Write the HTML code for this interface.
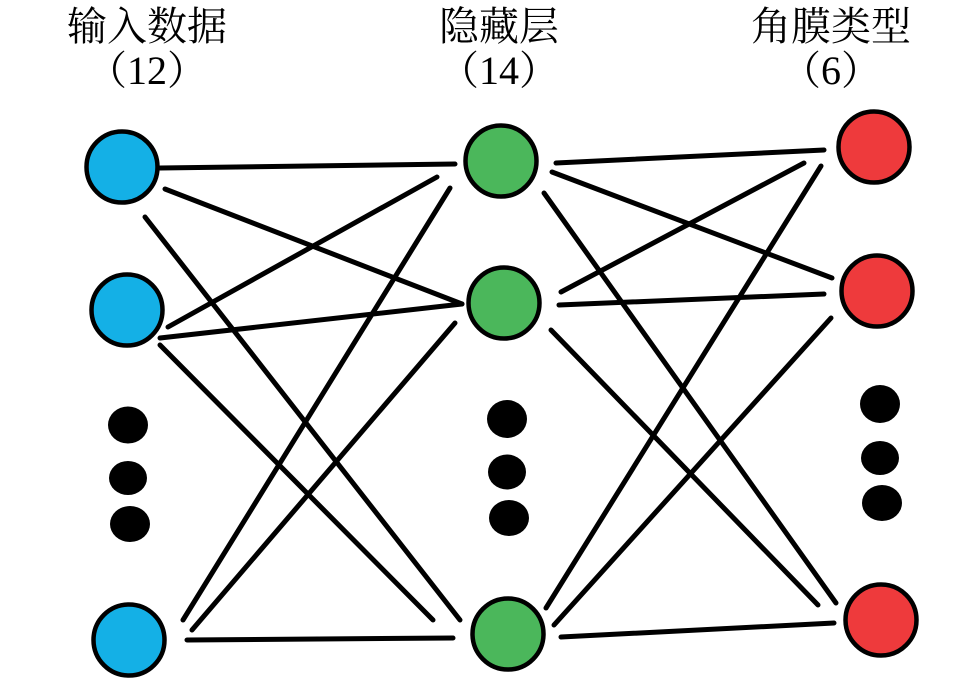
<!DOCTYPE html>
<html>
<head>
<meta charset="utf-8">
<style>
html,body{margin:0;padding:0;background:#fff;}
svg{display:block;}
</style>
</head>
<body>
<svg width="978" height="690" viewBox="0 0 978 690" xmlns="http://www.w3.org/2000/svg">
<rect width="978" height="690" fill="#fff"/>
<g font-family="'Liberation Serif','Noto Serif CJK SC',serif" font-size="40" fill="#000" text-anchor="middle">
<text x="147" y="40">输入数据</text>
<text x="147" y="84">（12）</text>
<text x="499" y="40">隐藏层</text>
<text x="499" y="84">（14）</text>
<text x="831" y="40">角膜类型</text>
<text x="831" y="84">（6）</text>
</g>
<g stroke="#000" stroke-width="5" stroke-linecap="round" fill="none">
<!-- input -> hidden -->
<line x1="160" y1="168" x2="455" y2="164"/>
<line x1="165" y1="189" x2="462" y2="304"/>
<line x1="145" y1="217" x2="460" y2="620"/>
<line x1="168" y1="327" x2="437" y2="177"/>
<line x1="160" y1="338" x2="462" y2="304"/>
<line x1="160" y1="345" x2="433" y2="620"/>
<line x1="450" y1="188" x2="183" y2="620"/>
<line x1="455" y1="323" x2="192" y2="630"/>
<line x1="187" y1="640" x2="453" y2="638"/>
<!-- hidden -> output -->
<line x1="556" y1="163" x2="824" y2="150"/>
<line x1="552" y1="172" x2="832" y2="278"/>
<line x1="544" y1="193" x2="836" y2="603"/>
<line x1="561" y1="292" x2="804" y2="163"/>
<line x1="559" y1="305" x2="824" y2="294"/>
<line x1="551" y1="330" x2="818" y2="605"/>
<line x1="821" y1="166" x2="546" y2="608"/>
<line x1="831" y1="318" x2="554" y2="625"/>
<line x1="561" y1="637" x2="834" y2="623"/>
</g>
<g stroke="#000" stroke-width="4.5">
<circle cx="122" cy="167" r="35.5" fill="#14b0e6"/>
<circle cx="127" cy="310" r="35.5" fill="#14b0e6"/>
<circle cx="129" cy="640" r="35.5" fill="#14b0e6"/>
<circle cx="501" cy="161" r="35.5" fill="#4bb75b"/>
<circle cx="504" cy="303" r="35.5" fill="#4bb75b"/>
<circle cx="508" cy="634" r="35.5" fill="#4bb75b"/>
<circle cx="874" cy="147" r="35.5" fill="#ee3a3c"/>
<circle cx="877" cy="291" r="35.5" fill="#ee3a3c"/>
<circle cx="881" cy="620" r="35.5" fill="#ee3a3c"/>
</g>
<g fill="#000">
<ellipse cx="128" cy="425" rx="20" ry="18.5"/>
<ellipse cx="128" cy="478" rx="19" ry="17"/>
<ellipse cx="130" cy="524" rx="20" ry="18"/>
<ellipse cx="507" cy="419" rx="20" ry="19"/>
<ellipse cx="507" cy="472" rx="19" ry="17.5"/>
<ellipse cx="509" cy="518" rx="20" ry="18"/>
<ellipse cx="880" cy="404" rx="20" ry="19"/>
<ellipse cx="880" cy="458" rx="19" ry="17"/>
<ellipse cx="882" cy="503" rx="20" ry="18"/>
</g>
</svg>
</body>
</html>
